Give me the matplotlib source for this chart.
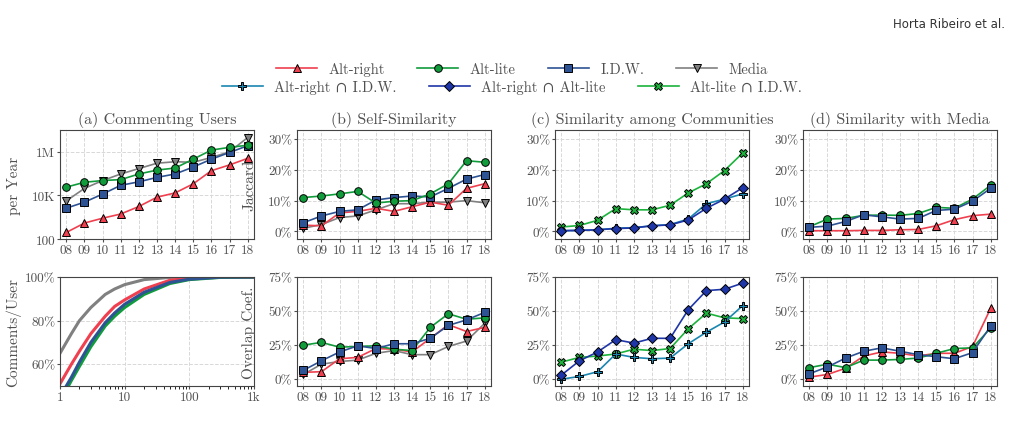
import numpy as np
import matplotlib
matplotlib.use('Agg')
import matplotlib.pyplot as plt
from matplotlib.lines import Line2D

plt.rcParams['font.family'] = ['cmr10', 'DejaVu Serif']
plt.rcParams['mathtext.fontset'] = 'cm'
plt.rcParams['axes.formatter.use_mathtext'] = True

years = ['08', '09', '10', '11', '12', '13', '14', '15', '16', '17', '18']

# (a) commenting users per year
users_ar = [200, 540, 900, 1400, 3100, 8300, 13000, 34000, 136000, 250000, 500000]
users_al = [24000, 40000, 48000, 53000, 96000, 145000, 180000, 460000, 1.2e6, 1.6e6, 2.0e6]
users_idw = [2600, 4900, 11500, 29000, 42000, 67000, 96000, 200000, 460000, 930000, 1.9e6]
users_media = [5600, 21000, 48000, 96000, 170000, 300000, 350000, 330000, 550000, 1.0e6, 4.5e6]

# (a) bottom: CDF of comments per user
cdf_x_media = [1, 1.5, 2, 3, 5, 7, 10, 20, 50, 100, 1000]
cdf_media = [65, 74, 80, 86, 92, 94.5, 96.5, 98.8, 99.8, 100, 100]
cdf_x_ar = [1, 1.5, 2, 3, 5, 7, 10, 20, 50, 100, 300, 1000]
cdf_ar = [51, 60, 66, 74, 82, 86.5, 89.5, 94.5, 98.5, 99.5, 100, 100]
cdf_x_idw = [1.25, 1.5, 2, 3, 5, 7, 10, 20, 50, 100, 300, 1000]
cdf_idw = [50, 54, 61, 70, 79, 83.5, 87.5, 93, 97.5, 99, 99.9, 100]
cdf_x_al = [1.35, 1.5, 2, 3, 5, 7, 10, 20, 50, 100, 300, 1000]
cdf_al = [50, 52.5, 59, 68, 77.5, 82, 86, 92, 97, 98.8, 99.8, 100]

# (b) self-similarity
jac_ar = [2, 1.8, 6, 6.5, 7.5, 6.5, 8, 9.5, 8.5, 14, 15.5]
jac_al = [11, 11.5, 12.2, 13, 9.2, 9.8, 10, 12.2, 15.5, 23, 22.5]
jac_idw = [2.8, 5, 6.5, 7, 10.2, 11, 11.5, 11.2, 14, 17, 18.5]
jac_media = [1, 2.2, 4.5, 5, 7, 9, 9, 9.5, 9.5, 10, 9.3]
ov_ar = [5, 5.5, 15, 16, 22.5, 22, 20, 30, 40, 35, 38]
ov_al = [25, 27, 23.5, 24, 24.5, 22, 21, 38, 48, 44, 45]
ov_idw = [6.5, 13.5, 20, 24.5, 22.5, 26, 26, 30, 39.5, 43.5, 49]
ov_media = [3.5, 11, 13, 14, 19, 21, 18, 18, 24, 28, 41]

# (c) similarity among communities
jac_ar_idw = [0.2, 0.3, 0.5, 1, 1.2, 1.8, 2.2, 4, 9, 10.5, 12.2]
jac_ar_al = [0.2, 0.3, 0.5, 0.9, 1.1, 1.8, 2.1, 3.7, 7.5, 10.5, 14.2]
jac_al_idw = [1.4, 1.9, 3.6, 7.4, 7, 7, 8.5, 12.5, 15.5, 19.8, 25.5]
ov_ar_idw = [0, 2, 5.5, 18.5, 16, 15, 15.5, 26, 34.5, 42, 54]
ov_ar_al = [3, 13.5, 20, 29, 26.5, 30, 30, 51, 65, 66, 70.5]
ov_al_idw = [12.5, 16, 17, 18.5, 22, 21, 22.5, 37, 48.5, 45, 44.5]

# (d) similarity with media
jm_ar = [0.2, 0.2, 0.2, 0.3, 0.3, 0.5, 0.6, 1.8, 3.8, 5.1, 5.6]
jm_al = [1.5, 4, 4.2, 5.2, 5.3, 5.2, 5.8, 7.8, 7.5, 10.5, 15]
jm_idw = [1.3, 1.7, 3.2, 5.4, 4.7, 4, 4.2, 6.8, 7.2, 9.8, 14]
om_ar = [1.5, 3.5, 8, 17, 20, 19, 17, 19, 19, 24, 52]
om_al = [8.5, 11, 8.5, 14, 14, 14.5, 15.5, 19, 22.5, 23, 37.5]
om_idw = [4, 9, 15.5, 20.5, 23, 20.5, 18, 16.5, 15, 19.5, 39]

RED, GREEN, BLUE, GREY = '#f0404f', '#119c3c', '#2e5394', '#808080'
CYAN, NAVY, LGREEN = '#1a86b0', '#1f36a8', '#1bb33c'
STY = {
    'Alt-right': dict(color=RED, marker='^'),
    'Alt-lite': dict(color=GREEN, marker='o'),
    'I.D.W.': dict(color=BLUE, marker='s'),
    'Media': dict(color=GREY, marker='v'),
    'Alt-right ∩ I.D.W.': dict(color=CYAN, marker='P'),
    'Alt-right ∩ Alt-lite': dict(color=NAVY, marker='D'),
    'Alt-lite ∩ I.D.W.': dict(color=LGREEN, marker='X'),
}
TXT = '#505050'


def line(ax, y, name):
    s = STY[name]
    ax.plot(np.arange(len(years)), y, color=s['color'], marker=s['marker'], ms=5.5,
            mec='black', mew=0.7, lw=1.2, label=name)


def style(ax):
    ax.grid(True, ls='--', color='#d8d8d8', lw=0.7)
    for sp in ax.spines.values():
        sp.set_color('#444444')
    ax.tick_params(colors=TXT, labelsize=9.5, labelcolor=TXT, length=2, pad=1.5)


def year_axis(ax):
    ax.set_xticks(np.arange(len(years)), years)
    ax.set_xlim(-0.35, len(years) - 0.65)


fig = plt.figure(figsize=(10.14, 4.39), dpi=100)
W, H = 1014, 439
lefts = [60, 297, 555, 803]
wid = 194
rows = [(131, 240), (278, 387)]
axs = [[fig.add_axes([l / W, 1 - b / H, wid / W, (b - t) / H]) for l in lefts] for t, b in rows]
for r in axs:
    for a in r:
        style(a)

titles = ['(a) Commenting Users', '(b) Self-Similarity', '(c) Similarity among Communities', '(d) Similarity with Media']
for a, t in zip(axs[0], titles):
    a.set_title(t, fontsize=11.5, color=TXT, pad=5)

# (a) top
ax = axs[0][0]
for y, n in [(users_media, 'Media'), (users_idw, 'I.D.W.'), (users_al, 'Alt-lite'), (users_ar, 'Alt-right')]:
    line(ax, y, n)
ax.set_yscale('log')
ax.set_ylim(100, 1e7)
ax.set_yticks([100, 1e4, 1e6], ['100', '10K', '1M'])
ax.minorticks_off()
ax.set_ylabel('per Year', color=TXT, fontsize=11)
ax.yaxis.set_label_coords(-0.2, 0.5)
year_axis(ax)

# (a) bottom
ax = axs[1][0]
for xs, ys, c in [(cdf_x_media, cdf_media, GREY), (cdf_x_ar, cdf_ar, RED),
                  (cdf_x_al, cdf_al, GREEN), (cdf_x_idw, cdf_idw, BLUE)]:
    ax.plot(xs, ys, color=c, lw=2.2)
ax.set_xscale('log')
ax.set_xlim(1, 1000)
ax.set_ylim(50, 100)
ax.set_xticks([1, 10, 100, 1000], ['1', '10', '100', '1k'])
ax.set_yticks([60, 80, 100], ['60%', '80%', '100%'])
ax.set_ylabel('Comments/User', color=TXT, fontsize=11)
ax.yaxis.set_label_coords(-0.2, 0.5)


def pct_axis(ax, top):
    year_axis(ax)
    if top:
        ax.set_ylim(-2.5, 33)
        ax.set_yticks([0, 10, 20, 30], ['0%', '10%', '20%', '30%'])
    else:
        ax.set_ylim(-5, 75)
        ax.set_yticks([0, 25, 50, 75], ['0%', '25%', '50%', '75%'])


ax = axs[0][1]
for y, n in [(jac_media, 'Media'), (jac_ar, 'Alt-right'), (jac_idw, 'I.D.W.'), (jac_al, 'Alt-lite')]:
    line(ax, y, n)
pct_axis(ax, True)
ax.set_ylabel('Jaccard', color=TXT, fontsize=11)
ax.yaxis.set_label_coords(-0.21, 0.5)
ax = axs[1][1]
for y, n in [(ov_media, 'Media'), (ov_ar, 'Alt-right'), (ov_al, 'Alt-lite'), (ov_idw, 'I.D.W.')]:
    line(ax, y, n)
pct_axis(ax, False)
ax.set_ylabel('Overlap Coef.', color=TXT, fontsize=11)
ax.yaxis.set_label_coords(-0.21, 0.5)

ax = axs[0][2]
for y, n in [(jac_al_idw, 'Alt-lite ∩ I.D.W.'), (jac_ar_idw, 'Alt-right ∩ I.D.W.'), (jac_ar_al, 'Alt-right ∩ Alt-lite')]:
    line(ax, y, n)
pct_axis(ax, True)
ax = axs[1][2]
for y, n in [(ov_al_idw, 'Alt-lite ∩ I.D.W.'), (ov_ar_idw, 'Alt-right ∩ I.D.W.'), (ov_ar_al, 'Alt-right ∩ Alt-lite')]:
    line(ax, y, n)
pct_axis(ax, False)

ax = axs[0][3]
for y, n in [(jm_ar, 'Alt-right'), (jm_al, 'Alt-lite'), (jm_idw, 'I.D.W.')]:
    line(ax, y, n)
pct_axis(ax, True)
ax = axs[1][3]
for y, n in [(om_ar, 'Alt-right'), (om_al, 'Alt-lite'), (om_idw, 'I.D.W.')]:
    line(ax, y, n)
pct_axis(ax, False)


def handles(names):
    return [Line2D([], [], color=STY[n]['color'], marker=STY[n]['marker'], ms=5.5, mec='black',
                   mew=0.7, lw=1.2, label=n) for n in names]


leg_kw = dict(frameon=False, fontsize=10.5, handlelength=2.8, columnspacing=2.2, labelcolor=TXT,
              handletextpad=0.8, borderaxespad=0, loc='center')
fig.legend(handles=handles(['Alt-right', 'Alt-lite', 'I.D.W.', 'Media']), ncol=4,
           bbox_to_anchor=(0.515, 1 - 70 / H), **leg_kw)
fig.legend(handles=handles(['Alt-right ∩ I.D.W.', 'Alt-right ∩ Alt-lite', 'Alt-lite ∩ I.D.W.']), ncol=3,
           bbox_to_anchor=(0.505, 1 - 88 / H), **leg_kw)

fig.text(1005 / W, 1 - 25 / H, 'Horta Ribeiro et al.', ha='right', va='center', fontsize=8.5,
         family='DejaVu Sans', color='#333333')

fig.savefig('out.png', dpi=100)
